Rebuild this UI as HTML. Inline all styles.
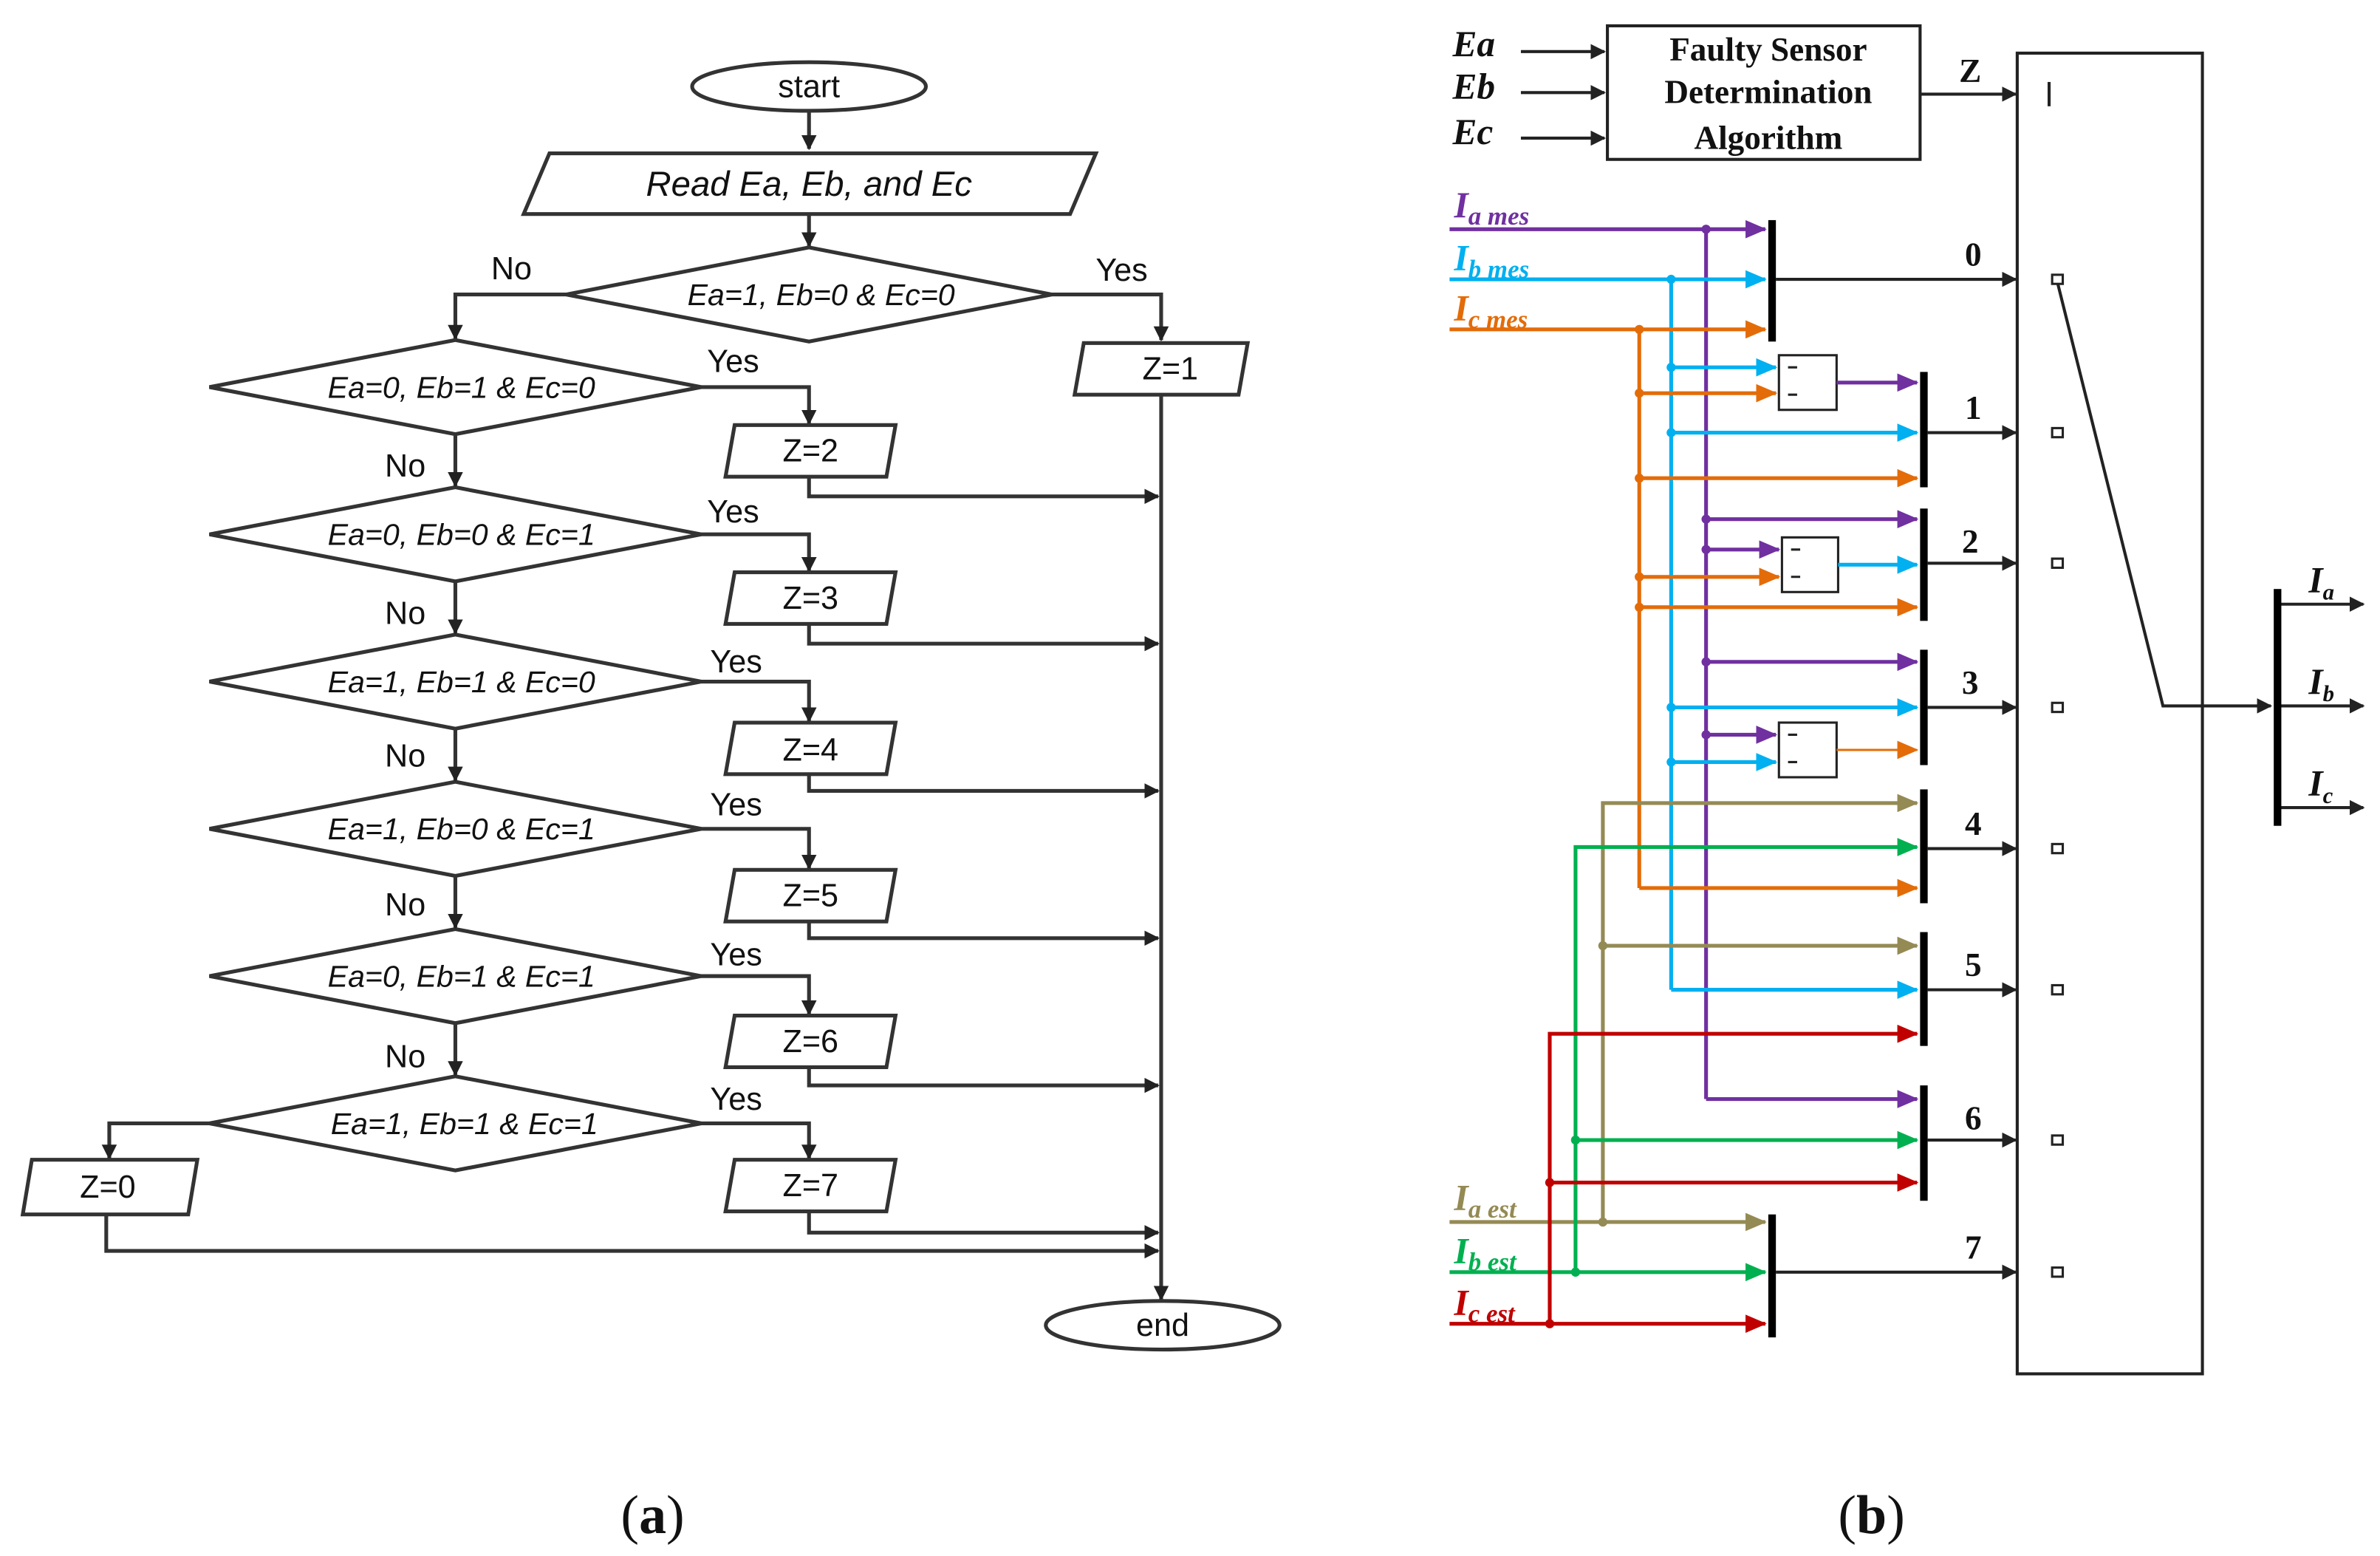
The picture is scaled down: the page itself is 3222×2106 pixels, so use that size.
<!DOCTYPE html>
<html><head><meta charset="utf-8"><style>
html,body{margin:0;padding:0;background:#fff;}
svg{display:block;}
.fc{font-family:"Liberation Sans",sans-serif;font-size:21px;fill:#111;}
.it{font-style:italic;font-size:20px;}
.sr{font-family:"Liberation Serif",serif;font-weight:bold;fill:#111;}
</style></head><body>
<svg width="3222" height="2106" viewBox="0 0 1568 1025" preserveAspectRatio="none" xmlns="http://www.w3.org/2000/svg">
<defs>
<marker id="ak" markerWidth="10" markerHeight="10" refX="9" refY="5" orient="auto" markerUnits="userSpaceOnUse"><path d="M0,0 L10,5 L0,10 z" fill="#222"/></marker>
<marker id="ap" markerWidth="14" markerHeight="12" refX="13" refY="6" orient="auto" markerUnits="userSpaceOnUse"><path d="M0,0 L14,6 L0,12 z" fill="#7030a0"/></marker>
<marker id="ab" markerWidth="14" markerHeight="12" refX="13" refY="6" orient="auto" markerUnits="userSpaceOnUse"><path d="M0,0 L14,6 L0,12 z" fill="#00b0f0"/></marker>
<marker id="ao" markerWidth="14" markerHeight="12" refX="13" refY="6" orient="auto" markerUnits="userSpaceOnUse"><path d="M0,0 L14,6 L0,12 z" fill="#e36c09"/></marker>
<marker id="at" markerWidth="14" markerHeight="12" refX="13" refY="6" orient="auto" markerUnits="userSpaceOnUse"><path d="M0,0 L14,6 L0,12 z" fill="#948a54"/></marker>
<marker id="ag" markerWidth="14" markerHeight="12" refX="13" refY="6" orient="auto" markerUnits="userSpaceOnUse"><path d="M0,0 L14,6 L0,12 z" fill="#00b050"/></marker>
<marker id="ar" markerWidth="14" markerHeight="12" refX="13" refY="6" orient="auto" markerUnits="userSpaceOnUse"><path d="M0,0 L14,6 L0,12 z" fill="#c00000"/></marker>
</defs>

<!-- ===== (a) flowchart ===== -->
<g fill="none" stroke="#333" stroke-width="2.5">
<ellipse cx="533" cy="57" rx="77" ry="16"/>
<path d="M533,74 V98" marker-end="url(#ak)"/>
<polygon points="362,101 722,101 705,141 345,141"/>
<path d="M533,141 V162" marker-end="url(#ak)"/>
<polygon points="373,194 533,163 693,194 533,225"/>
<path d="M373,194 H300 V223" marker-end="url(#ak)"/>
<path d="M693,194 H765 V224" marker-end="url(#ak)"/>
<polygon points="714,226 822,226 816,260 708,260"/>
<path d="M765,260 V856" marker-end="url(#ak)"/>
<ellipse cx="766" cy="873" rx="77" ry="16"/>

<polygon points="138,255 300,224 462,255 300,286"/>
<polygon points="138,352 300,321 462,352 300,383"/>
<polygon points="138,449 300,418 462,449 300,480"/>
<polygon points="138,546 300,515 462,546 300,577"/>
<polygon points="138,643 300,612 462,643 300,674"/>
<polygon points="138,740 300,709 462,740 300,771"/>

<path d="M300,286 V320" marker-end="url(#ak)"/>
<path d="M300,383 V417" marker-end="url(#ak)"/>
<path d="M300,480 V514" marker-end="url(#ak)"/>
<path d="M300,577 V611" marker-end="url(#ak)"/>
<path d="M300,674 V708" marker-end="url(#ak)"/>

<path d="M462,255 H533 V279" marker-end="url(#ak)"/>
<path d="M462,352 H533 V376" marker-end="url(#ak)"/>
<path d="M462,449 H533 V475" marker-end="url(#ak)"/>
<path d="M462,546 H533 V572" marker-end="url(#ak)"/>
<path d="M462,643 H533 V668" marker-end="url(#ak)"/>
<path d="M462,740 H533 V763" marker-end="url(#ak)"/>

<polygon points="484,280 590,280 584,314 478,314"/>
<polygon points="484,377 590,377 584,411 478,411"/>
<polygon points="484,476 590,476 584,510 478,510"/>
<polygon points="484,573 590,573 584,607 478,607"/>
<polygon points="484,669 590,669 584,703 478,703"/>
<polygon points="484,764 590,764 584,798 478,798"/>

<path d="M533,314 V327 H763" marker-end="url(#ak)"/>
<path d="M533,411 V424 H763" marker-end="url(#ak)"/>
<path d="M533,510 V521 H763" marker-end="url(#ak)"/>
<path d="M533,607 V618 H763" marker-end="url(#ak)"/>
<path d="M533,703 V715 H763" marker-end="url(#ak)"/>
<path d="M533,798 V812 H763" marker-end="url(#ak)"/>

<path d="M138,740 H72 V763" marker-end="url(#ak)"/>
<polygon points="21,764 130,764 124,800 15,800"/>
<path d="M70,800 V824 H763" marker-end="url(#ak)"/>
</g>
<g class="fc" text-anchor="middle">
<text x="533" y="64">start</text>
<text x="766" y="880">end</text>
<text x="533" y="129" class="it" style="font-size:23px">Read Ea, Eb, and Ec</text>
<text x="541" y="201" class="it">Ea=1, Eb=0 &amp; Ec=0</text>
<text x="304" y="262" class="it">Ea=0, Eb=1 &amp; Ec=0</text>
<text x="304" y="359" class="it">Ea=0, Eb=0 &amp; Ec=1</text>
<text x="304" y="456" class="it">Ea=1, Eb=1 &amp; Ec=0</text>
<text x="304" y="553" class="it">Ea=1, Eb=0 &amp; Ec=1</text>
<text x="304" y="650" class="it">Ea=0, Eb=1 &amp; Ec=1</text>
<text x="306" y="747" class="it">Ea=1, Eb=1 &amp; Ec=1</text>
<text x="771" y="250">Z=1</text>
<text x="534" y="304">Z=2</text>
<text x="534" y="401">Z=3</text>
<text x="534" y="501">Z=4</text>
<text x="534" y="597">Z=5</text>
<text x="534" y="693">Z=6</text>
<text x="534" y="788">Z=7</text>
<text x="71" y="789">Z=0</text>
<text x="337" y="184">No</text>
<text x="739" y="185">Yes</text>
<text x="267" y="314">No</text><text x="267" y="411">No</text><text x="267" y="505">No</text><text x="267" y="603">No</text><text x="267" y="703">No</text>
<text x="483" y="245">Yes</text><text x="483" y="344">Yes</text><text x="485" y="443">Yes</text><text x="485" y="537">Yes</text><text x="485" y="636">Yes</text><text x="485" y="731">Yes</text>
</g>

<!-- ===== (b) ===== -->
<g class="sr" style="font-style:italic;font-size:24px">
<text x="957" y="37">Ea</text><text x="957" y="65">Eb</text><text x="957" y="95">Ec</text>
</g>
<g stroke="#222" stroke-width="2" fill="none">
<path d="M1002,34 H1057" marker-end="url(#ak)"/>
<path d="M1002,61 H1057" marker-end="url(#ak)"/>
<path d="M1002,91 H1057" marker-end="url(#ak)"/>
<rect x="1059" y="17" width="206" height="88"/>
<path d="M1265,62 H1328" marker-end="url(#ak)"/>
<path d="M1350,54 V70"/>
<rect x="1329" y="35" width="122" height="870"/>
<path d="M1170,184 H1328" marker-end="url(#ak)"/>
<path d="M1270,285 H1328" marker-end="url(#ak)"/>
<path d="M1270,371 H1328" marker-end="url(#ak)"/>
<path d="M1270,466 H1328" marker-end="url(#ak)"/>
<path d="M1270,559 H1328" marker-end="url(#ak)"/>
<path d="M1270,652 H1328" marker-end="url(#ak)"/>
<path d="M1270,751 H1328" marker-end="url(#ak)"/>
<path d="M1170,838 H1328" marker-end="url(#ak)"/>
<path d="M1355,184 L1425,465 H1496" marker-end="url(#ak)"/>
<path d="M1502,398 H1557" marker-end="url(#ak)"/>
<path d="M1502,465 H1557" marker-end="url(#ak)"/>
<path d="M1502,532 H1557" marker-end="url(#ak)"/>
</g>
<g fill="#fff" stroke="#222" stroke-width="1.5">
<rect x="1352" y="181" width="7" height="6"/><rect x="1352" y="282" width="7" height="6"/><rect x="1352" y="368" width="7" height="6"/><rect x="1352" y="463" width="7" height="6"/><rect x="1352" y="556" width="7" height="6"/><rect x="1352" y="649" width="7" height="6"/><rect x="1352" y="748" width="7" height="6"/><rect x="1352" y="835" width="7" height="6"/>
</g>
<g fill="#000">
<rect x="1165" y="145" width="5" height="80"/>
<rect x="1265" y="245" width="5" height="76"/>
<rect x="1265" y="335" width="5" height="74"/>
<rect x="1265" y="428" width="5" height="76"/>
<rect x="1265" y="520" width="5" height="75"/>
<rect x="1265" y="614" width="5" height="75"/>
<rect x="1265" y="715" width="5" height="76"/>
<rect x="1165" y="800" width="5" height="81"/>
<rect x="1498" y="388" width="5" height="156"/>
</g>
<g class="sr" text-anchor="middle" style="font-size:22px">
<text x="1165" y="40">Faulty Sensor</text>
<text x="1165" y="68">Determination</text>
<text x="1165" y="98">Algorithm</text>
<text x="1298" y="54">Z</text>
<text x="1300" y="175">0</text><text x="1300" y="276">1</text><text x="1298" y="364">2</text><text x="1298" y="457">3</text><text x="1300" y="550">4</text><text x="1300" y="643">5</text><text x="1300" y="744">6</text><text x="1300" y="829">7</text>
</g>
<g class="sr" style="font-style:italic;font-size:24px">
<text x="1521" y="390">I<tspan font-size="15" dy="5">a</tspan></text>
<text x="1521" y="457">I<tspan font-size="15" dy="5">b</tspan></text>
<text x="1521" y="524">I<tspan font-size="15" dy="5">c</tspan></text>
<text x="958" y="143" fill="#7030a0">I<tspan font-size="17" dy="5">a mes</tspan></text>
<text x="958" y="178" fill="#00b0f0">I<tspan font-size="17" dy="5">b mes</tspan></text>
<text x="958" y="211" fill="#e36c09">I<tspan font-size="17" dy="5">c mes</tspan></text>
<text x="958" y="797" fill="#948a54">I<tspan font-size="17" dy="5">a est</tspan></text>
<text x="958" y="832" fill="#00b050">I<tspan font-size="17" dy="5">b est</tspan></text>
<text x="958" y="866" fill="#c00000">I<tspan font-size="17" dy="5">c est</tspan></text>
</g>
<!-- subtract blocks -->
<g fill="#fff" stroke="#222" stroke-width="1.5">
<rect x="1172" y="234" width="38" height="36"/>
<rect x="1174" y="354" width="37" height="36"/>
<rect x="1172" y="476" width="38" height="36"/>
</g>
<g stroke="#222" stroke-width="1.5">
<path d="M1178,242 h6 M1178,260 h6 M1180,362 h6 M1180,380 h6 M1178,484 h6 M1178,502 h6"/>
</g>
<!-- colored wires -->
<g fill="none" stroke-width="2.5">
<g stroke="#7030a0">
<path d="M955,151 H1163" marker-end="url(#ap)"/>
<path d="M1124,151 V724"/>
<path d="M1210,252 H1263" marker-end="url(#ap)"/>
<path d="M1124,342 H1263" marker-end="url(#ap)"/>
<path d="M1124,362 H1172" marker-end="url(#ap)"/>
<path d="M1124,436 H1263" marker-end="url(#ap)"/>
<path d="M1124,484 H1170" marker-end="url(#ap)"/>
<path d="M1124,724 H1263" marker-end="url(#ap)"/>
</g>
<g stroke="#00b0f0">
<path d="M955,184 H1163" marker-end="url(#ab)"/>
<path d="M1101,184 V652"/>
<path d="M1101,242 H1170" marker-end="url(#ab)"/>
<path d="M1101,285 H1263" marker-end="url(#ab)"/>
<path d="M1211,372 H1263" marker-end="url(#ab)"/>
<path d="M1101,466 H1263" marker-end="url(#ab)"/>
<path d="M1101,502 H1170" marker-end="url(#ab)"/>
<path d="M1101,652 H1263" marker-end="url(#ab)"/>
</g>
<g stroke="#e36c09">
<path d="M955,217 H1163" marker-end="url(#ao)"/>
<path d="M1080,217 V585"/>
<path d="M1080,259 H1170" marker-end="url(#ao)"/>
<path d="M1080,315 H1263" marker-end="url(#ao)"/>
<path d="M1080,380 H1172" marker-end="url(#ao)"/>
<path d="M1080,400 H1263" marker-end="url(#ao)"/>
<path d="M1210,494 H1263" stroke-width="1.5" marker-end="url(#ao)"/>
<path d="M1080,585 H1263" marker-end="url(#ao)"/>
</g>
<g stroke="#948a54">
<path d="M955,805 H1163" marker-end="url(#at)"/>
<path d="M1056,805 V529 H1263" marker-end="url(#at)"/>
<path d="M1056,623 H1263" marker-end="url(#at)"/>
</g>
<g stroke="#00b050">
<path d="M955,838 H1163" marker-end="url(#ag)"/>
<path d="M1038,838 V558 H1263" marker-end="url(#ag)"/>
<path d="M1038,751 H1263" marker-end="url(#ag)"/>
</g>
<g stroke="#c00000">
<path d="M955,872 H1163" marker-end="url(#ar)"/>
<path d="M1021,872 V681 H1263" marker-end="url(#ar)"/>
<path d="M1021,779 H1263" marker-end="url(#ar)"/>
</g>
</g>
<g>
<g fill="#7030a0"><circle cx="1124" cy="151" r="3"/><circle cx="1124" cy="342" r="3"/><circle cx="1124" cy="362" r="3"/><circle cx="1124" cy="436" r="3"/><circle cx="1124" cy="484" r="3"/></g>
<g fill="#00b0f0"><circle cx="1101" cy="184" r="3"/><circle cx="1101" cy="242" r="3"/><circle cx="1101" cy="285" r="3"/><circle cx="1101" cy="466" r="3"/><circle cx="1101" cy="502" r="3"/></g>
<g fill="#e36c09"><circle cx="1080" cy="217" r="3"/><circle cx="1080" cy="259" r="3"/><circle cx="1080" cy="315" r="3"/><circle cx="1080" cy="380" r="3"/><circle cx="1080" cy="400" r="3"/></g>
<g fill="#948a54"><circle cx="1056" cy="805" r="3"/><circle cx="1056" cy="623" r="3"/></g>
<g fill="#00b050"><circle cx="1038" cy="838" r="3"/><circle cx="1038" cy="751" r="3"/></g>
<g fill="#c00000"><circle cx="1021" cy="872" r="3"/><circle cx="1021" cy="779" r="3"/></g>
</g>

<g font-family="Liberation Serif, serif" font-size="36" fill="#111" text-anchor="middle">
<text x="430" y="1010">(<tspan font-weight="bold">a</tspan>)</text>
<text x="1233" y="1010">(<tspan font-weight="bold">b</tspan>)</text>
</g>
</svg>
</body></html>
